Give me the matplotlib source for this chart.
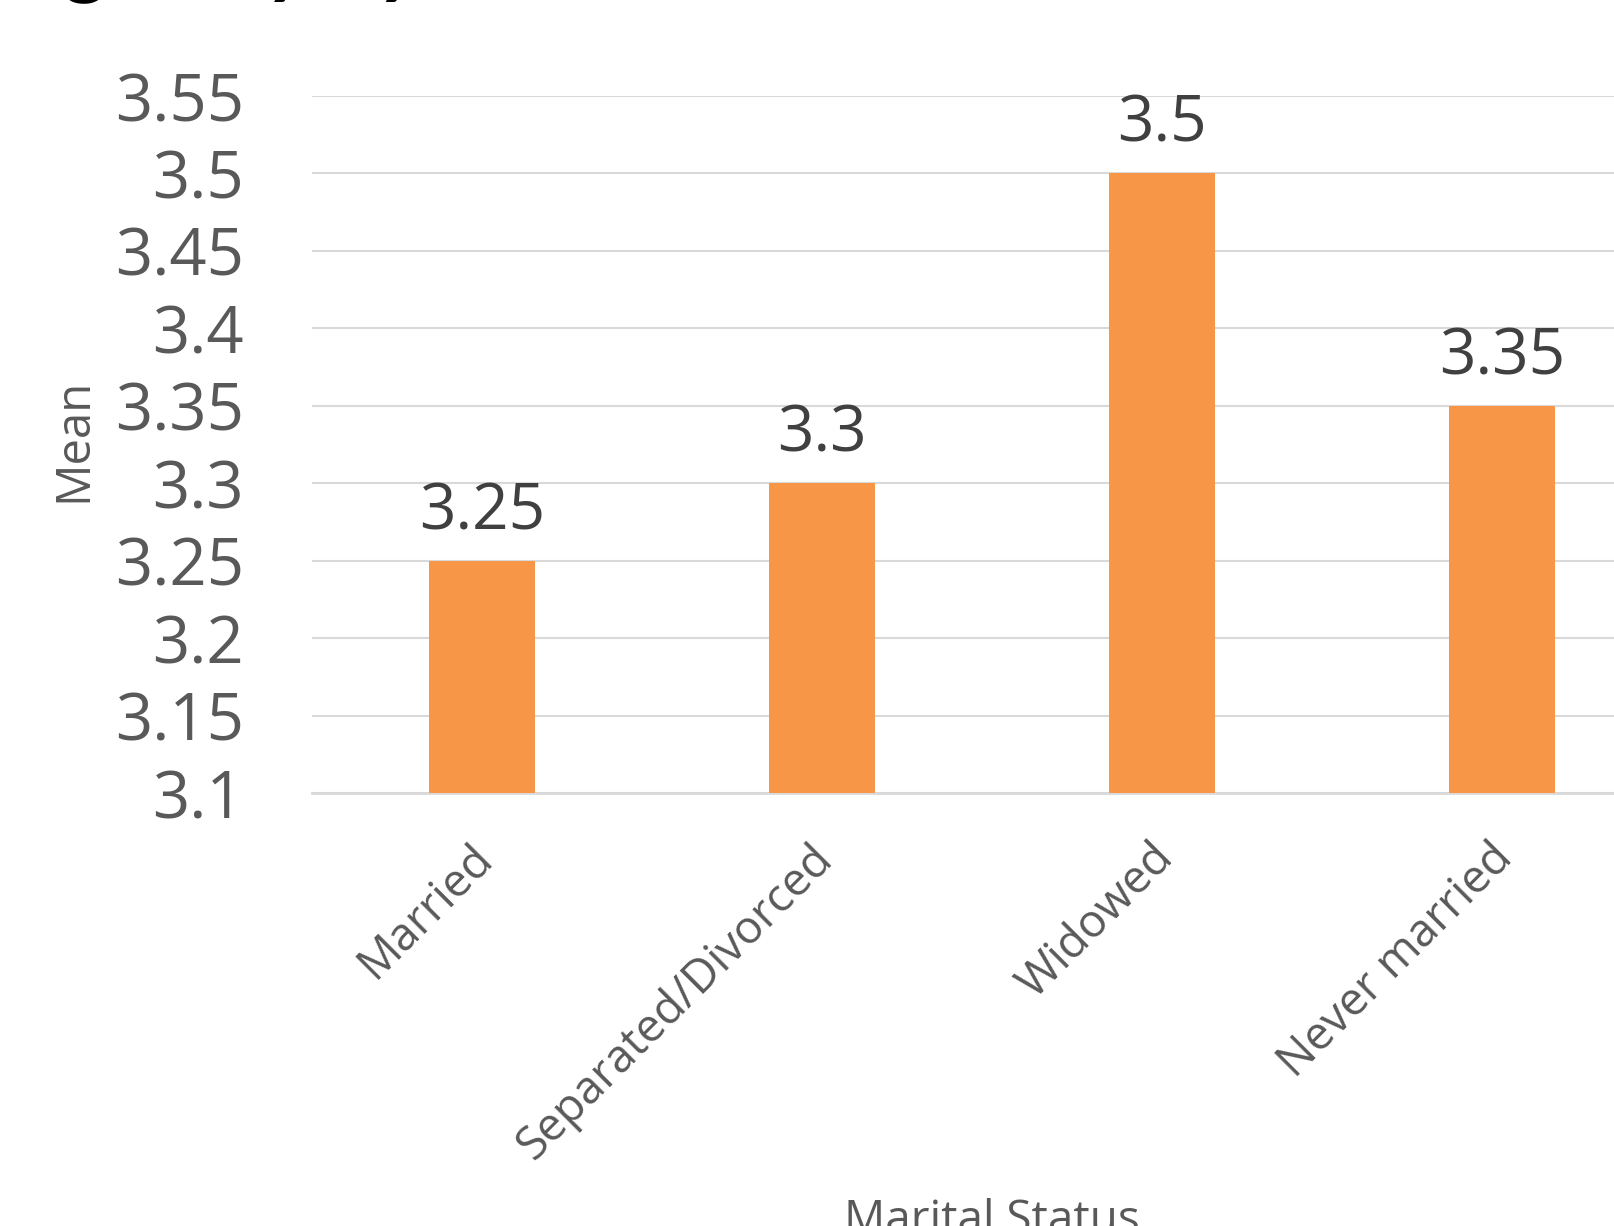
import matplotlib
matplotlib.use("Agg")
import matplotlib.pyplot as plt
from matplotlib.transforms import ScaledTranslation

categories = ["Married", "Separated/Divorced", "Widowed", "Never married"]
means = [3.25, 3.30, 3.50, 3.35]
y_ticks = [3.1, 3.15, 3.2, 3.25, 3.3, 3.35, 3.4, 3.45, 3.5, 3.55]
y_tick_labels = ["3.1", "3.15", "3.2", "3.25", "3.3", "3.35", "3.4", "3.45", "3.5", "3.55"]
value_labels = ["3.25", "3.3", "3.5", "3.35"]
title = "Figure 3: Mean Religiosity by Marital Status"

plt.rcParams["font.family"] = ["Open Sans", "DejaVu Sans"]

W, H = 1615, 1226
fig = plt.figure(figsize=(W / 100, H / 100), dpi=100)
# plot area runs past the right edge, as in the cropped original
ax = fig.add_axes([312 / W, 1 - 793 / H, (1672 - 312) / W, (793 - 96) / H])

x = list(range(len(categories)))
bars = ax.bar(x, means, width=0.31, color="#F79646", zorder=3)
ax.set_xlim(-0.5, len(categories) - 0.5)
ax.set_ylim(3.1, 3.55)

ax.set_yticks(y_ticks)
ax.set_yticklabels(y_tick_labels, fontsize=47, color="#595959")
ax.set_xticks(x)
ax.set_xticklabels([])
ax.tick_params(axis="both", length=0)
ax.tick_params(axis="y", pad=49)

# rotated category labels, ending just left of each bar centre
lab_tr = ax.get_xaxis_transform() + ScaledTranslation(-0.12, -0.42, fig.dpi_scale_trans)
for xi, name in zip(x, categories):
    ax.text(xi, 0, name, transform=lab_tr, fontsize=33, color="#595959",
            rotation=45, ha="right", va="top", rotation_mode="anchor")

ax.grid(axis="y", color="#D9D9D9", linewidth=1.5, zorder=0)
for side in ["top", "right", "left"]:
    ax.spines[side].set_visible(False)
ax.spines["bottom"].set_color("#D9D9D9")
ax.spines["bottom"].set_linewidth(2)

for bar, lab in zip(bars, value_labels):
    ax.annotate(lab, (bar.get_x() + bar.get_width() / 2, bar.get_height()),
                xytext=(0, 12), textcoords="offset points",
                ha="center", va="bottom", fontsize=46, color="#404040")

fig.text(74 / W, 1 - 440 / H, "Mean", rotation=90, ha="center", va="center",
         fontsize=34, color="#595959")
fig.text(992 / W, 1 - 1233 / H, "Marital Status", ha="center", va="baseline",
         fontsize=33, color="#595959")

# title sits mostly above the crop; only descenders show
fig.text(-655 / W, 1 + 13 / H, title, ha="left", va="baseline",
         fontsize=60, fontweight="bold", color="black", family=["Lato", "DejaVu Sans"])

fig.savefig("out.png", dpi=100)
